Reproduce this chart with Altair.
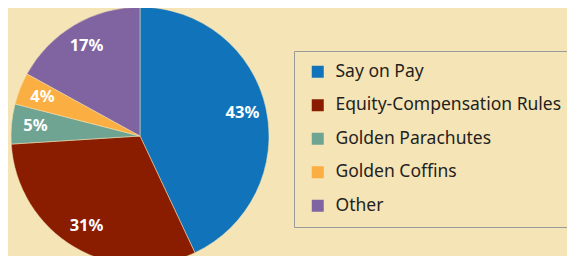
import altair as alt
import pandas as pd

categories = ["Say on Pay", "Equity-Compensation Rules", "Golden Parachutes", "Golden Coffins", "Other"]
shares = [43, 31, 5, 4, 17]
colors = ["#1174BB", "#8A1C00", "#6FA493", "#FBAE42", "#8064A2"]
labels_txt = [f"{v}%" for v in shares]

df = pd.DataFrame({
    "category": categories,
    "share": shares,
    "order": list(range(len(categories))),
    "label": labels_txt,
})

BG = "#F5E4B6"

base = alt.Chart(df).encode(
    theta=alt.Theta("share:Q", stack=True),
    order=alt.Order("order:Q"),
    x=alt.value(132),
    y=alt.value(128),
)

pie = base.mark_arc(radius=129, stroke=BG, strokeWidth=0.5).encode(
    color=alt.Color(
        "category:N",
        scale=alt.Scale(domain=categories, range=colors),
        sort=categories,
        legend=alt.Legend(
            title=None,
            orient="none",
            legendX=286,
            legendY=43,
            strokeColor="#9a9a9a",
            padding=12,
            symbolOffset=3,
            symbolType="square",
            symbolSize=144,
            symbolStrokeWidth=0,
            labelFont="Noto Sans",
            labelFontSize=17.5,
            labelColor="#231F20",
            labelOffset=9,
            labelLimit=0,
            rowPadding=14.5,
        ),
    )
)

text = base.mark_text(
    radius=105, font="Noto Sans", fontWeight="bold", fontSize=16.5, color="white"
).encode(text="label:N")

chart = (pie + text).properties(
    width=559, height=248, padding=0, autosize="none", background=BG
).configure_view(stroke=None)

chart.save("out.html", embed_options={"renderer": "svg", "actions": False})
